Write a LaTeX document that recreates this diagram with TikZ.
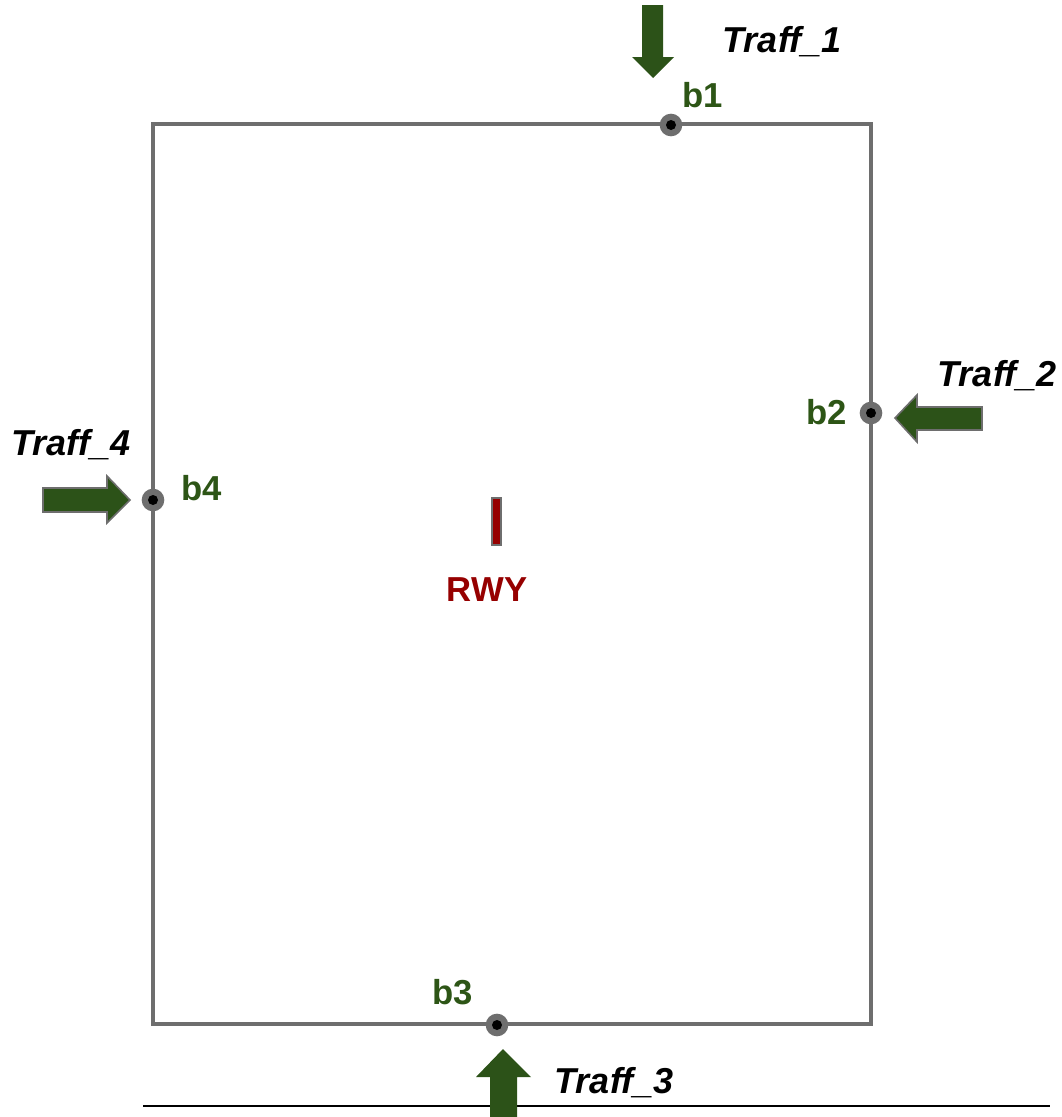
\documentclass[tikz,border=0pt]{standalone}
\usepackage{fontspec}
\setmainfont{Liberation Sans}
\begin{document}
\begin{tikzpicture}[x=0.75pt,y=-0.75pt,
  frame/.style={draw=framegray,line width=2.3pt,line join=miter},
  portdot/.style={circle,fill=framegray,minimum size=17pt,inner sep=0pt},
  portcore/.style={circle,fill=black,minimum size=7.5pt,inner sep=0pt},
  blabel/.style={text=labgreen,font=\fontsize{26}{30}\selectfont\bfseries,anchor=base,inner sep=0pt},
  tlabel/.style={text=black,font=\fontsize{27}{31}\selectfont\bfseries\itshape,anchor=base,inner sep=0pt},
  flowarrow/.style={fill=arrgreen},
  flowarrowb/.style={fill=arrgreen,draw=framegray,line width=1.2pt,line join=miter},
]
\definecolor{framegray}{RGB}{110,110,110}
\definecolor{labgreen}{RGB}{45,85,22}
\definecolor{arrgreen}{RGB}{44,82,24}
\definecolor{rwyred}{RGB}{150,0,0}
\useasboundingbox (0,0) rectangle (1062,1117);
\fill[white] (0,0) rectangle (1062,1117);

% frame
\coordinate (tl) at (153,124);
\coordinate (tr) at (871,124);
\coordinate (br) at (871,1024);
\coordinate (bl) at (153,1024);
\draw[frame] (tl) -- (tr) -- (br) -- (bl) -- cycle;

% bottom rule
\coordinate (rl) at (143,1106);
\coordinate (rr) at (1050,1106);
\draw[black,line width=1.5pt] (rl) -- (rr);

% arrows
\fill[flowarrow] (642,5) -- (663,5) -- (663,57) -- (674,57) -- (653,78) -- (632,57) -- (642,57) -- cycle;
\draw[flowarrowb] (982,407) -- (917,407) -- (917,395) -- (895,418) -- (917,442) -- (917,430) -- (982,430) -- cycle;
\draw[flowarrowb] (43,488) -- (107,488) -- (107,476) -- (130,500) -- (107,523) -- (107,512) -- (43,512) -- cycle;
\fill[flowarrow] (490,1120) -- (490,1077) -- (476,1077) -- (503,1049) -- (531,1077) -- (517,1077) -- (517,1120) -- cycle;

% ports
\node[portdot] (b1) at (671,125) {};
\node[portcore] at (b1) {};
\node[portdot] (b2) at (871,413) {};
\node[portcore] at (b2) {};
\node[portdot] (b3) at (497,1025) {};
\node[portcore] at (b3) {};
\node[portdot] (b4) at (153,500) {};
\node[portcore] at (b4) {};

\node[blabel] (lb1) at (703,107) {b1};
\node[blabel] (lb2) at (827,424) {b2};
\node[blabel] (lb3) at (453,1004) {b3};
\node[blabel] (lb4) at (202,500) {b4};

\node[tlabel] (t1) at (782,52) {Traff\_1};
\node[tlabel] (t2) at (997,386) {Traff\_2};
\node[tlabel] (t3) at (614,1093) {Traff\_3};
\node[tlabel] (t4) at (71,455) {Traff\_4};

% runway
\draw[fill=rwyred,draw=framegray,line width=1.2pt] (492,498) rectangle (501,545);
\node[text=rwyred,font=\fontsize{26}{30}\selectfont\bfseries,anchor=base,inner sep=0pt] (rwy) at (487,601) {RWY};
\end{tikzpicture}
\end{document}
